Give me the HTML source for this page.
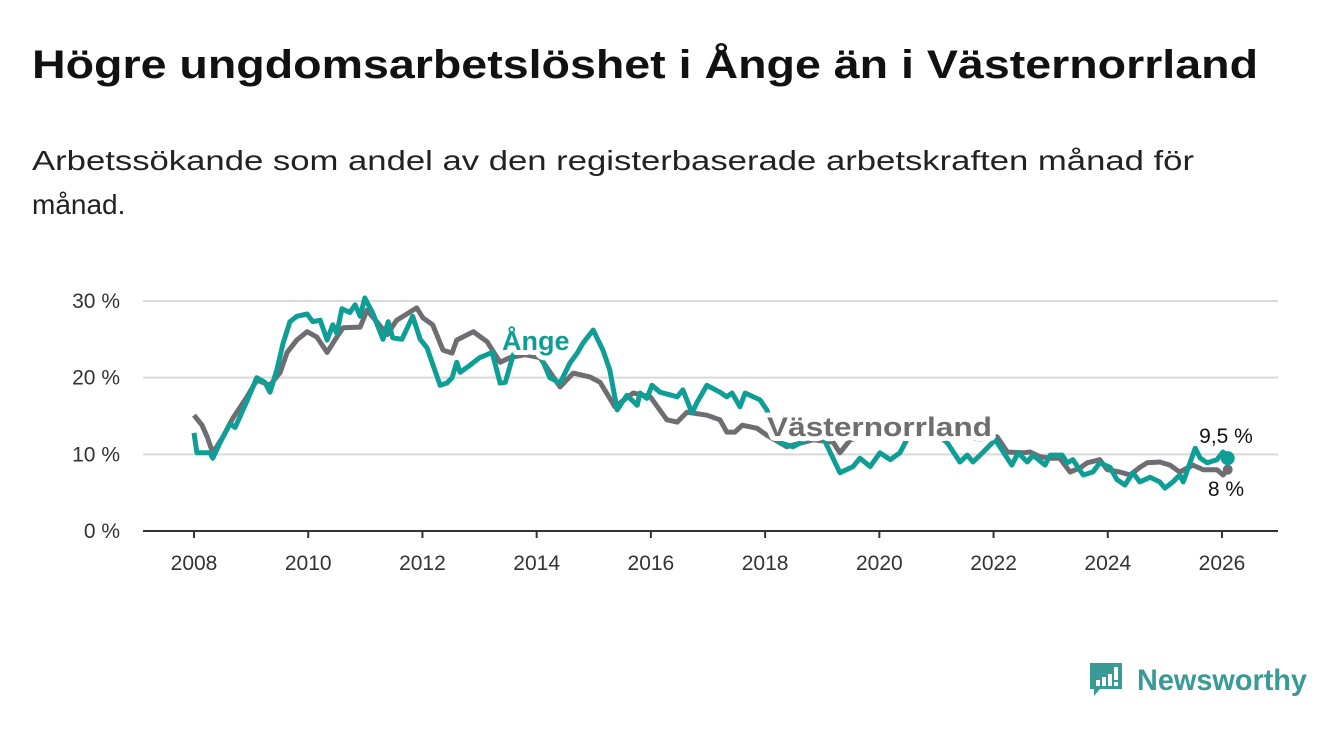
<!DOCTYPE html>
<html><head><meta charset="utf-8">
<style>
html,body{margin:0;padding:0;background:#fff;}
svg{display:block;font-family:"Liberation Sans","DejaVu Sans",sans-serif;}
.lbl{paint-order:stroke;stroke:#fff;stroke-width:10px;stroke-linejoin:round;}
.lbl2{paint-order:stroke;stroke:#fff;stroke-width:6px;stroke-linejoin:round;}
</style></head>
<body>
<svg id="chart" width="1340" height="734" viewBox="0 0 1340 734">
<text x="32" y="78" font-size="40" font-weight="bold" fill="#111" textLength="1226" lengthAdjust="spacingAndGlyphs">Högre ungdomsarbetslöshet i Ånge än i Västernorrland</text>
<text x="32" y="170" font-size="28" fill="#222" textLength="1162" lengthAdjust="spacingAndGlyphs">Arbetssökande som andel av den registerbaserade arbetskraften månad för</text>
<text x="32" y="214" font-size="28" fill="#222">månad.</text>
<g id="grid"></g>
<g id="series"></g>
<g id="labels"></g>
<g>
<path d="M1090 663 h32 v26 h-22 l-6 7 v-7 h-4 z" fill="#3a9a96"/>
<rect x="1096" y="680" width="4" height="6" fill="#fff"/>
<rect x="1102" y="677" width="4" height="9" fill="#fff"/>
<rect x="1108" y="674" width="4" height="12" fill="#fff"/>
<rect x="1114" y="667" width="4" height="13" fill="#fff"/>
<rect x="1114" y="682" width="4" height="4" fill="#fff"/>
<text x="1137" y="690" font-size="30" font-weight="bold" fill="#3a9a96" textLength="170" lengthAdjust="spacingAndGlyphs">Newsworthy</text>
</g>
</svg>
<script>
const angeYears=[2008.0,2008.05,2008.28,2008.33,2008.46,2008.63,2008.72,2008.93,2009.1,2009.24,2009.33,2009.45,2009.56,2009.68,2009.8,2009.98,2010.08,2010.21,2010.33,2010.43,2010.5,2010.59,2010.73,2010.82,2010.91,2010.99,2011.13,2011.31,2011.4,2011.48,2011.64,2011.83,2011.96,2012.08,2012.31,2012.43,2012.52,2012.6,2012.66,2012.83,2013.0,2013.22,2013.36,2013.45,2013.59,2013.71,2014.06,2014.23,2014.41,2014.58,2014.71,2014.81,2014.99,2015.16,2015.28,2015.41,2015.58,2015.76,2015.81,2015.93,2016.02,2016.16,2016.46,2016.56,2016.72,2016.81,2016.98,2017.21,2017.33,2017.42,2017.56,2017.65,2017.91,2018.03,2018.14,2018.26,2018.49,2018.75,2019.01,2019.31,2019.54,2019.66,2019.84,2020.01,2020.19,2020.36,2020.48,2020.62,2020.8,2020.97,2021.19,2021.41,2021.54,2021.64,2021.82,2022.03,2022.32,2022.43,2022.59,2022.69,2022.9,2022.99,2023.2,2023.29,2023.39,2023.57,2023.74,2023.86,2024.04,2024.16,2024.3,2024.44,2024.56,2024.74,2024.91,2025.0,2025.14,2025.26,2025.32,2025.53,2025.62,2025.74,2025.91,2026.02,2026.1];
const angeValues=[12.8,10.2,10.2,9.5,11.6,14,13.5,17,20,19.4,18.1,21,24.5,27.3,28,28.3,27.3,27.5,24.9,26.9,25.8,29,28.5,29.5,28,30.4,28.4,25,27.3,25.2,25,28,25,23.9,19,19.3,20,22,20.7,21.6,22.6,23.3,19.3,19.4,23,24,23,20,19.3,21.9,23.2,24.5,26.2,23.6,21,15.8,17.7,16.4,18,17.3,19,18.1,17.5,18.4,15.4,16.8,19,18.1,17.5,18,16.2,18,17.1,15.8,13.5,11.5,11,12,12.3,7.6,8.4,9.5,8.4,10.2,9.3,10.2,11.9,13,12.5,12.8,11.5,9,9.9,9,10.3,11.9,8.6,10.2,9,9.9,8.6,9.9,9.9,8.9,9.3,7.3,7.7,8.9,8.3,6.7,6,7.6,6.4,7,6.4,5.6,6.4,7.3,6.4,10.8,9.5,8.9,9.3,10.3,9.5];
const vnYears=[2008.0,2008.14,2008.23,2008.33,2008.51,2008.68,2008.93,2009.1,2009.33,2009.51,2009.63,2009.8,2009.98,2010.15,2010.33,2010.5,2010.61,2010.91,2011.03,2011.2,2011.38,2011.55,2011.9,2012.01,2012.18,2012.36,2012.52,2012.6,2012.89,2013.13,2013.36,2013.53,2013.8,2014.06,2014.41,2014.64,2014.93,2015.11,2015.37,2015.69,2015.99,2016.28,2016.46,2016.63,2016.98,2017.21,2017.33,2017.47,2017.6,2017.86,2018.03,2018.38,2018.84,2019.19,2019.31,2019.49,2019.84,2020.19,2020.54,2020.89,2021.41,2021.76,2022.06,2022.24,2022.52,2022.64,2022.81,2022.99,2023.16,2023.34,2023.51,2023.64,2023.86,2023.99,2024.21,2024.39,2024.56,2024.69,2024.91,2025.09,2025.26,2025.49,2025.67,2025.91,2026.02,2026.1];
const vnValues=[15.1,13.8,12.3,10.2,12.3,14.7,17.5,19.7,19,20.7,23.3,24.9,26,25.3,23.3,25.3,26.5,26.6,28.8,27.3,25.6,27.5,29.1,27.8,26.9,23.6,23.2,24.9,26,24.7,22,22.6,23,22.6,18.8,20.6,20.1,19.4,16.2,18,17.5,14.5,14.2,15.5,15.1,14.5,12.9,12.9,13.8,13.4,12.5,11,11.9,11.6,10.2,11.9,12.5,13,14.5,13.5,12.5,12,12.3,10.3,10.2,10.3,9.7,9.5,9.5,7.7,8.2,8.9,9.3,8,7.7,7.3,8.3,8.9,9,8.6,7.7,8.6,8,8,7.3,8];
const yTicks=[0,10,20,30];
const yTickLabels=["0 %","10 %","20 %","30 %"];
const xTicks=[2008,2010,2012,2014,2016,2018,2020,2022,2024,2026];

const NS="http://www.w3.org/2000/svg";
const X=y=>194+(y-2008)*(1028/18);
const Y=v=>531-v*(230/30);
function mk(tag,attrs,parent){const e=document.createElementNS(NS,tag);for(const k in attrs)e.setAttribute(k,attrs[k]);parent.appendChild(e);return e;}
const grid=document.getElementById('grid'),ser=document.getElementById('series'),lab=document.getElementById('labels');
yTicks.forEach((t,i)=>{
  const l=mk('line',{x1:143,x2:1278,y1:Y(t),y2:Y(t),stroke:t===0?'#333':'#d9d9d9','stroke-width':2},grid);
  
  
  const tx=mk('text',{x:120,y:Y(t)+7,'text-anchor':'end','font-size':21,fill:'#333'},grid);
  tx.textContent=yTickLabels[i];
  
  
});
xTicks.forEach(t=>{
  const l=mk('line',{x1:X(t),x2:X(t),y1:531,y2:538,stroke:'#333','stroke-width':2},grid);
  
  
  const tx=mk('text',{x:X(t),y:570,'text-anchor':'middle','font-size':21,fill:'#333'},grid);
  tx.textContent=String(t);
  
  
});
function path(xs,vs){return xs.map((x,i)=>(i?'L':'M')+X(x).toFixed(1)+' '+Y(vs[i]).toFixed(1)).join(' ');}
const pv=mk('path',{d:path(vnYears,vnValues),fill:'none',stroke:'#6e6d72','stroke-width':5,'stroke-linejoin':'round'},ser);


const pa=mk('path',{d:path(angeYears,angeValues),fill:'none',stroke:'#0f9e95','stroke-width':5,'stroke-linejoin':'round'},ser);


const la=angeYears.length-1,lv=vnYears.length-1;
const dv=mk('circle',{cx:X(vnYears[lv]),cy:Y(vnValues[lv]),r:5,fill:'#6e6d72'},ser);


const da=mk('circle',{cx:X(angeYears[la]),cy:Y(angeValues[la]),r:7,fill:'#0f9e95'},ser);


const t1=mk('text',{x:502,y:350,'font-size':27,'font-weight':'bold',fill:'#0f9e95',class:'lbl'},lab);
t1.textContent='Ånge';


const t2=mk('text',{x:767,y:436,'font-size':27,'font-weight':'bold',fill:'#6e6d72',class:'lbl',textLength:225,lengthAdjust:'spacingAndGlyphs'},lab);
t2.textContent='Västernorrland';


const e1=mk('text',{x:1226,y:443,'text-anchor':'middle','font-size':21,fill:'#111',class:'lbl2'},lab);
e1.textContent=String(angeValues[la]).replace('.',',')+' %';


const e2=mk('text',{x:1226,y:496,'text-anchor':'middle','font-size':21,fill:'#111',class:'lbl2'},lab);
e2.textContent=String(vnValues[lv]).replace('.',',')+' %';


</script>
</body></html>
